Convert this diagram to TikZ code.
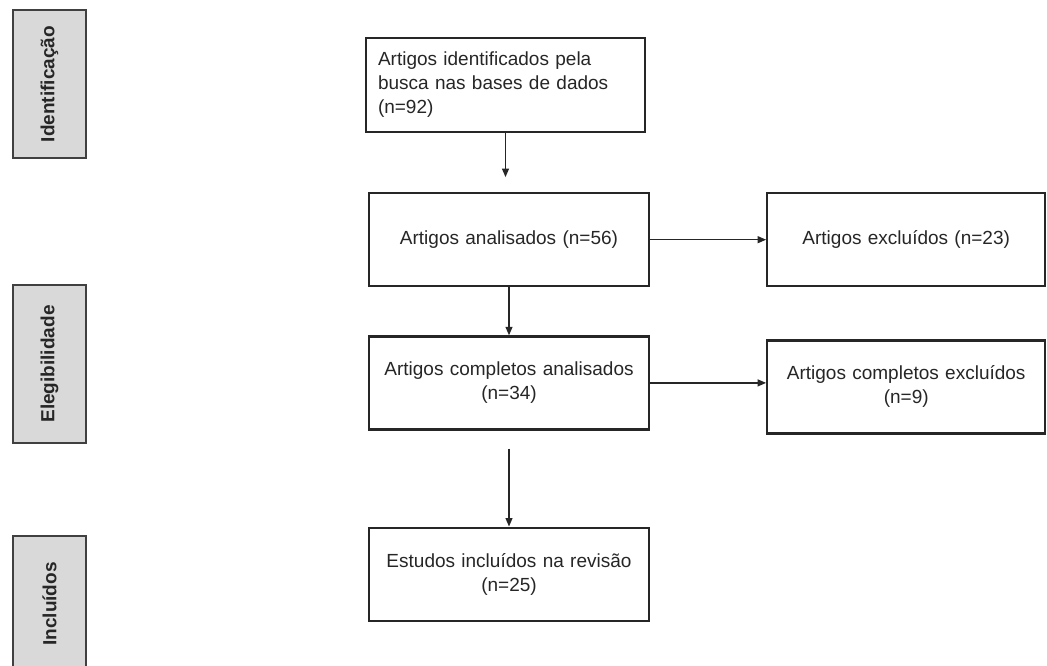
\documentclass[tikz,border=0pt]{standalone}
\usepackage{fontspec}
\setmainfont{Liberation Sans}
\usetikzlibrary{arrows.meta,positioning}

\begin{document}
\begin{tikzpicture}[
  x=1pt, y=-1pt,
  node distance=48pt,
  box/.style={draw=black!85, line width=2.2pt, align=center, minimum width=280pt, minimum height=93pt, text width=256pt, font=\fontsize{19}{24}\selectfont, text=black!85},
  phase/.style={draw=black!75, fill=black!15, line width=1.5pt, minimum height=73pt, rotate=90, font=\bfseries\fontsize{19}{22}\selectfont, text=black!85},
  arr/.style={-{Triangle[length=8.5pt,width=7pt]}, line width=1.2pt, draw=black!85}
]
\useasboundingbox (0,0) rectangle (1047,666);
\clip (0,0) rectangle (1047,666);
% phases
\node[phase, minimum width=148pt] (ident) at (49.5,84) {Identificação};
\node[phase, minimum width=158pt] (eleg) at (49.5,364) {Elegibilidade};
\node[phase, minimum width=136pt] (incl) at (49.5,604) {Incluídos};
% flow
\node[box, align=left, minimum width=279pt, minimum height=94pt, text width=255pt] (busca) at (505.5,85) {Artigos identificados pela\\busca nas bases de dados\\(n=92)};
\node[box, below=59pt of busca, xshift=3.5pt] (analisados) {Artigos analisados (n=56)};
\node[box, right=116pt of analisados, minimum width=278pt] (excluidos) {Artigos excluídos (n=23)};
\node[box, below=of analisados] (completos) {Artigos completos analisados\\(n=34)};
\node[box, right=116pt of completos, minimum width=278pt, yshift=-4pt] (compexcl) {Artigos completos excluídos\\(n=9)};
\node[box, below=96pt of completos] (incluidos) {Estudos incluídos na revisão\\(n=25)};
\draw[arr, shorten >=15pt] (busca.south) -- (busca.south |- analisados.north);
\draw[arr] (analisados) -- (excluidos);
\draw[arr] (analisados) -- (completos);
\draw[arr] (completos.east) -- (completos.east -| compexcl.west);
\draw[arr, shorten <=18pt] (completos) -- (incluidos);
\end{tikzpicture}
\end{document}
